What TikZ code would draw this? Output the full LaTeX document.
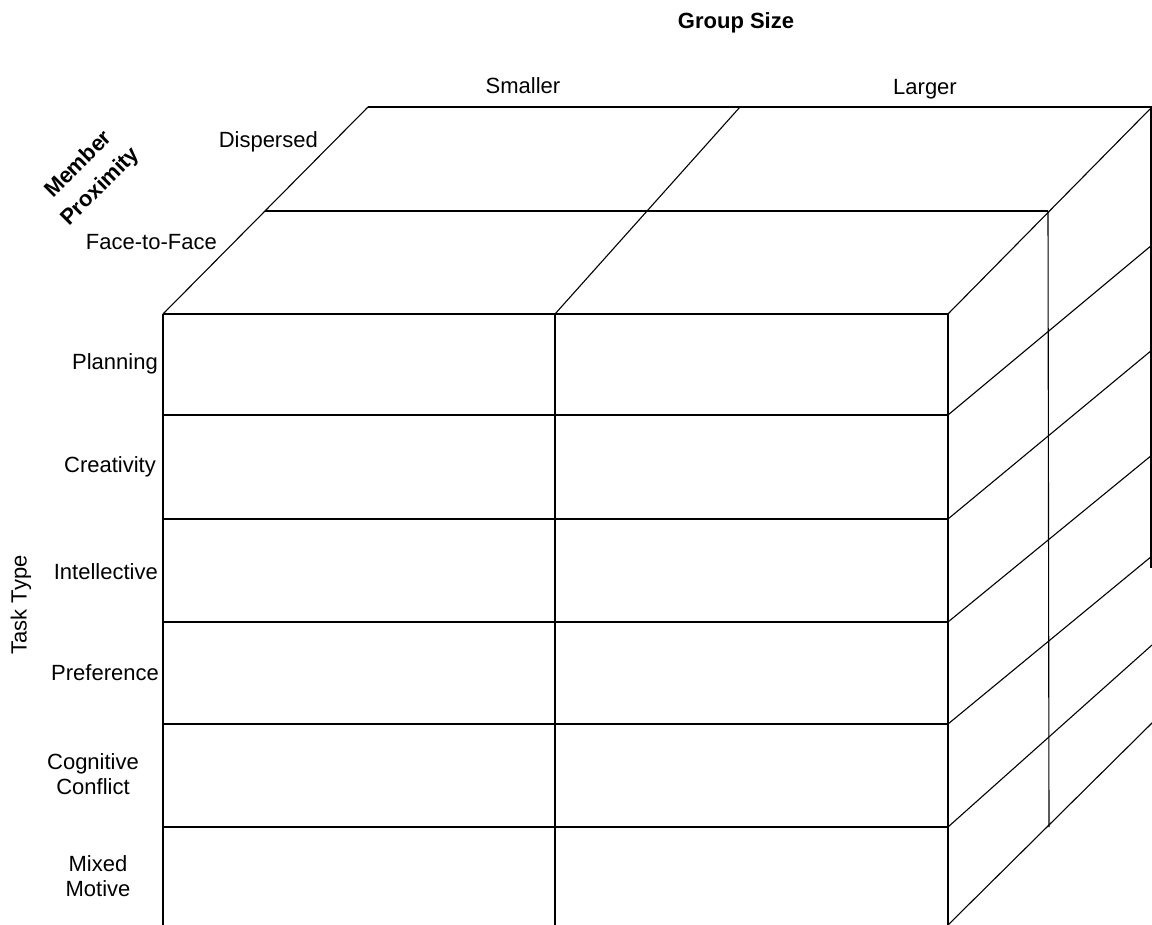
\documentclass[tikz,border=0pt]{standalone}
\usepackage{fontspec}
\setmainfont{Liberation Sans}
\usetikzlibrary{positioning}
\tikzstyle{edge}   = [line width=1.1pt, black]
\tikzstyle{lbl}    = [font=\fontsize{22}{25}\selectfont, inner sep=0pt]
\tikzstyle{rowlbl} = [lbl, anchor=east]
\tikzstyle{axis}   = [font=\fontsize{22}{31}\selectfont\bfseries, inner sep=0pt]
\tikzset{every node/.style={align=center}}

\begin{document}
\begin{tikzpicture}[x=1pt, y=-1pt]
    \useasboundingbox (0,0) rectangle (1152,925);

    % front face
    \foreach \y in {314,415,519,622,724,827}
        \draw [edge] (163,\y) -- (948,\y);
    \foreach \x in {163,555,948}
        \draw [edge] (\x,314) -- (\x,925);

    % top face
    \draw [edge] (368,107) -- (1152,107);
    \draw [edge] (265,211) -- (1048,211);
    \draw [edge] (163,314) -- (368,107);
    \draw [edge] (555,314) -- (740,107);
    \draw [edge] (948,314) -- (1152,107);

    % right face
    \draw [edge] (1048,211) -- (1049,827);
    \draw [edge] (1151,107) -- (1151,568);
    \foreach \ya/\yb in {415/245, 519/350, 622/455, 724/556, 827/645, 925/723}
        \draw [edge] (948,\ya) -- (1152,\yb);

    \node (gsize) at (736,23)  [axis] {Group Size};
    \node (small) at (523,86)  [lbl]  {Smaller};
    \node (large) at (925,89)  [lbl]  {Larger};
    \node (disp)  at (318,142) [lbl, anchor=east] {Dispersed};
    \node (ftf)   at (217,242) [lbl, anchor=east] {Face-to-Face};
    \node (prox)  at (90,176)  [axis, rotate=45] {Member\\Proximity};
    \node (task)  at (21,605)  [lbl, rotate=90]  {Task Type};

    \node (plan)  at (158,364) [rowlbl] {Planning};
    \node (crea)  at (156,467) [rowlbl] {Creativity};
    \node (intel) at (158,572) [rowlbl] {Intellective};
    \node (pref)  at (159,673) [rowlbl] {Preference};
    \node (cogn)  at (93,774)  [lbl]    {Cognitive\\Conflict};
    \node (mixed) at (98,876)  [lbl]    {Mixed\\Motive};
\end{tikzpicture}
\end{document}
